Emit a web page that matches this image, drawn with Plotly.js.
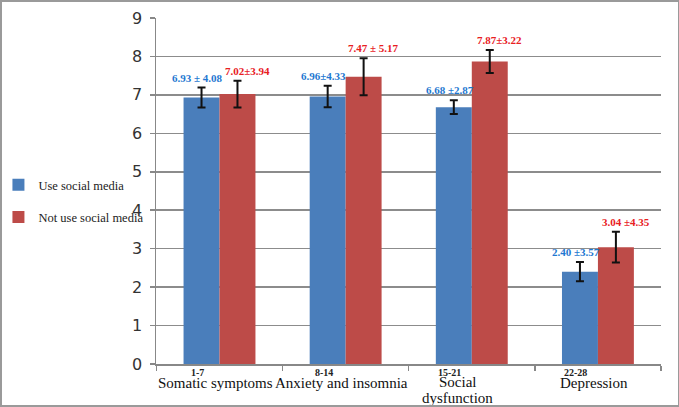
<!DOCTYPE html>
<html>
<head>
<meta charset="utf-8">
<script src="https://cdn.plot.ly/plotly-3.0.1.min.js"></script>
<style>
html,body{margin:0;padding:0;background:#fff;}
#wrap{position:relative;width:679px;height:407px;}
#chart{width:679px;height:407px;}
#frame{position:absolute;left:0;top:0;width:679px;height:407px;box-sizing:border-box;border:2px solid #9a9a9a;border-right-width:1px;pointer-events:none;}
</style>
</head>
<body>
<div id="wrap"><div id="chart"></div><div id="frame"></div></div>
<script>
const categories = ["Somatic symptoms", "Anxiety and insomnia", "Social<br>dysfunction", "Depression"];
const rangeLabels = ["1-7", "8-14", "15-21", "22-28"];
const useValues = [6.93, 6.96, 6.68, 2.40];
const useErrors = [0.26, 0.28, 0.18, 0.25];
const useLabels = ["6.93 \u00b1 4.08", "6.96\u00b14.33", "6.68 \u00b12.87", "2.40 \u00b13.57"];
const notValues = [7.02, 7.47, 7.87, 3.04];
const notErrors = [0.35, 0.48, 0.30, 0.40];
const notLabels = ["7.02\u00b13.94", "7.47 \u00b1 5.17", "7.87\u00b13.22", "3.04 \u00b14.35"];
const yTicks = [0, 1, 2, 3, 4, 5, 6, 7, 8, 9];

const blue = "#4a7ebb", red = "#bd4b48";
const err = {type: "data", visible: true, color: "#111", thickness: 2, width: 4};

const traces = [
  {type: "bar", name: "Use social media", x: categories, y: useValues,
   marker: {color: blue}, error_y: Object.assign({array: useErrors}, err),
   legendgroup: "a"},
  {type: "bar", name: "Not use social media", x: categories, y: notValues,
   marker: {color: red}, error_y: Object.assign({array: notErrors}, err),
   legendgroup: "b"}
];

const annotations = [];
const serif = "'Liberation Serif', 'Times New Roman', serif";
categories.forEach((c, i) => {
  annotations.push({x: c, y: useValues[i] + useErrors[i], xref: "x", yref: "y",
    text: "<b>" + useLabels[i] + "</b>", showarrow: false, xshift: -22, yanchor: "bottom", yshift: 2,
    font: {family: serif, size: 11, color: "#1f78d1"}});
  annotations.push({x: c, y: notValues[i] + notErrors[i], xref: "x", yref: "y",
    text: "<b>" + notLabels[i] + "</b>", showarrow: false, xshift: 28, yanchor: "bottom", yshift: 2,
    font: {family: serif, size: 11, color: "#e8201f"}});
  annotations.push({x: c, y: 0, xref: "x", yref: "paper",
    text: "<b>" + rangeLabels[i] + "</b>", showarrow: false, xshift: -22, yanchor: "top", yshift: -1,
    font: {family: serif, size: 10, color: "#222"}});
  const lines = c.split("<br>");
  lines.forEach((ln, k) => {
    annotations.push({x: c, y: 0, xref: "x", yref: "paper",
      text: ln, showarrow: false, xshift: lines.length > 1 ? -14 : -4, yanchor: "top",
      yshift: (lines.length > 1 ? -8 : -9) - k * 16,
      font: {family: serif, size: 15, color: "#111"}});
  });
});

const layout = {
  width: 679, height: 407,
  margin: {l: 156, r: 18, t: 18, b: 43, autoexpand: false},
  paper_bgcolor: "#fff", plot_bgcolor: "#fff",
  barmode: "group", bargap: 0.43, bargroupgap: 0,
  showlegend: true,
  legend: {x: -0.312, xanchor: "left", y: 0.56, yanchor: "top",
    font: {family: serif, size: 12.5, color: "#222"},
    traceorder: "grouped", tracegroupgap: 13, itemwidth: 30, bgcolor: "rgba(0,0,0,0)"},
  xaxis: {type: "category", showticklabels: false, tickson: "boundaries",
    ticks: "outside", ticklen: 5, tickcolor: "#888", tickwidth: 1.5,
    showline: true, linecolor: "#888", linewidth: 1.5, showgrid: false, zeroline: false},
  yaxis: {range: [0, 9], tickvals: yTicks, ticks: "outside", ticklen: 5, tickcolor: "#888", tickwidth: 1.5,
    showline: true, linecolor: "#888", linewidth: 1.5,
    showgrid: true, gridcolor: "#8c8c8c", gridwidth: 1.5, zeroline: false,
    tickfont: {family: "DejaVu Sans, sans-serif", size: 16, color: "#333"}, ticklabelstandoff: 4},
  annotations: annotations
};

Plotly.newPlot("chart", traces, layout, {displayModeBar: false, staticPlot: true});
</script>
</body>
</html>
